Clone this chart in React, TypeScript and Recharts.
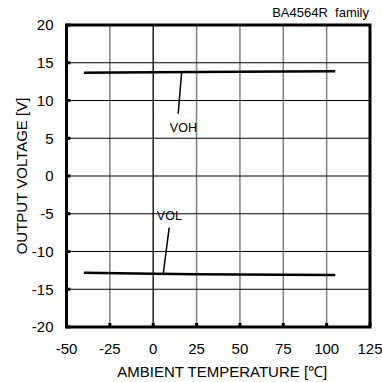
import {
  LineChart,
  Line,
  XAxis,
  YAxis,
  CartesianGrid,
  ReferenceArea,
  ReferenceLine,
  ReferenceDot,
} from "recharts";

const temps = [-40, 0, 25, 50, 75, 105];
const voh = [13.67, 13.75, 13.78, 13.8, 13.85, 13.88];
const vol = [-12.8, -12.95, -13.0, -13.05, -13.08, -13.11];

const xTicks = [-50, -25, 0, 25, 50, 75, 100, 125];
const yTicks = [-20, -15, -10, -5, 0, 5, 10, 15, 20];

// annotation anchors (data coords)
const vohLeader = [
  { x: 16.4, y: 13.78 },
  { x: 14.4, y: 8.24 },
];
const volLeader = [
  { x: 9.2, y: -6.85 },
  { x: 5.8, y: -12.95 },
];
const vohLabelAt = { x: 17.4, y: 6.36 };
const volLabelAt = { x: 9.3, y: -5.3 };

const data = temps.map((t, i) => ({ t, voh: voh[i], vol: vol[i] }));

const FONT = "'Liberation Sans', Arial, sans-serif";

export default function App() {
  return (
    <div
      style={{
        position: "fixed",
        left: 0,
        top: 0,
        width: 382,
        height: 382,
        background: "#fff",
        fontFamily: FONT,
      }}
    >
      <div
        style={{
          position: "absolute",
          right: 13,
          top: 5,
          fontSize: 13,
          color: "#000",
          whiteSpace: "pre",
        }}
      >
        {"BA4564R  family"}
      </div>
      <LineChart
        width={382}
        height={382}
        data={data}
        margin={{ top: 25, right: 12, left: 0, bottom: 0 }}
      >
        <CartesianGrid horizontal={false} stroke="#808080" strokeWidth={1.5} />
        <CartesianGrid vertical={false} stroke="#000" strokeWidth={1} />
        <XAxis
          dataKey="t"
          type="number"
          domain={[-50, 125]}
          ticks={xTicks}
          interval={0}
          height={55}
          axisLine={false}
          tickSize={-4}
          tickMargin={20}
          tickLine={{ stroke: "#000", strokeWidth: 3 }}
          tick={{ fill: "#000", fontSize: 15 }}
          label={{
            value: "AMBIENT TEMPERATURE [℃]",
            position: "insideBottom",
            offset: 5,
            dx: 4,
            fill: "#000",
            fontSize: 15,
          }}
        />
        <YAxis
          type="number"
          domain={[-20, 20]}
          ticks={yTicks}
          interval={0}
          width={66.5}
          axisLine={false}
          tickSize={-4}
          tickMargin={17}
          tickLine={{ stroke: "#000", strokeWidth: 3 }}
          tick={{ fill: "#000", fontSize: 15 }}
          label={{
            value: "OUTPUT VOLTAGE [V]",
            position: "insideLeft",
            content: ({ viewBox }: any) => (
              <text
                x={21}
                y={viewBox.y + viewBox.height / 2}
                transform={`rotate(-90, 21, ${viewBox.y + viewBox.height / 2})`}
                textAnchor="middle"
                dominantBaseline="central"
                fontSize={15}
                fill="#000"
              >
                OUTPUT VOLTAGE [V]
              </text>
            ),
          }}
        />
        <ReferenceLine x={0} stroke="#000" strokeWidth={1} />
        <Line
          dataKey="voh"
          type="linear"
          stroke="#000"
          strokeWidth={2.5}
          dot={false}
          isAnimationActive={false}
        />
        <Line
          dataKey="vol"
          type="linear"
          stroke="#000"
          strokeWidth={2.5}
          dot={false}
          isAnimationActive={false}
        />
        <ReferenceLine segment={vohLeader} stroke="#000" strokeWidth={1.5} />
        <ReferenceLine segment={volLeader} stroke="#000" strokeWidth={1.5} />
        <ReferenceDot
          x={vohLabelAt.x}
          y={vohLabelAt.y}
          r={0}
          fill="none"
          stroke="none"
          label={{ value: "VOH", position: "center", fill: "#000", fontSize: 12.5 }}
        />
        <ReferenceDot
          x={volLabelAt.x}
          y={volLabelAt.y}
          r={0}
          fill="none"
          stroke="none"
          label={{ value: "VOL", position: "center", fill: "#000", fontSize: 12.5 }}
        />
        <ReferenceArea
          x1={-50}
          x2={125}
          y1={-20}
          y2={20}
          fill="none"
          fillOpacity={0}
          stroke="#000"
          strokeWidth={3}
        />
      </LineChart>
    </div>
  );
}
